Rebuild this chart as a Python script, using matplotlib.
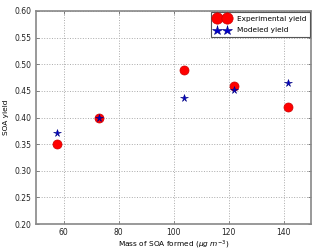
import matplotlib
matplotlib.use("Agg")
import matplotlib.pyplot as plt

mass = [57.5, 73.0, 103.7, 121.9, 141.6]
exp_yield = [0.35, 0.40, 0.49, 0.46, 0.42]
mod_yield = [0.371, 0.40, 0.436, 0.452, 0.464]

fig = plt.figure(figsize=(3.2, 2.52), dpi=100)
ax = fig.add_axes([36/320, 1-224/252, 275/320, 213/252])
ax.plot(mass, exp_yield, 'o', color='red', markersize=6.5, markeredgecolor='#cc0000', markeredgewidth=0.5, label='Experimental yield', linestyle='none')
ax.plot(mass, mod_yield, '*', color='#0000cc', markersize=5.5, markeredgecolor='#000080', markeredgewidth=0.4, label='Modeled yield', linestyle='none')
ax.set_xlim(50, 150)
ax.set_ylim(0.20, 0.60)
ax.set_xticks([60, 80, 100, 120, 140])
ax.set_yticks([0.20, 0.25, 0.30, 0.35, 0.40, 0.45, 0.50, 0.55, 0.60])
ax.grid(True, linestyle=':', color='#aaaaaa', linewidth=0.7)
for s in ax.spines.values():
    s.set_color('#888888')
    s.set_linewidth(1.2)
ax.tick_params(labelsize=5.5, length=2, width=0.5, direction='in', colors='#555555',
               labelcolor='#222222', top=True, right=True, pad=3)
ax.set_xlabel(r'Mass of SOA formed ($\mu g\ m^{-3}$)', fontsize=5.3, labelpad=1)
ax.set_ylabel('SOA yield', fontsize=5.3, labelpad=4)
leg = ax.legend(loc='upper right', numpoints=2, fontsize=5.3, fancybox=False, framealpha=1,
                borderpad=0.5, handletextpad=1.1, labelspacing=0.75, handlelength=1.9,
                borderaxespad=0.1, markerscale=1.25)
leg.get_frame().set_edgecolor('#555555')
leg.get_frame().set_linewidth(0.8)
fig.savefig('out.png', dpi=100)
